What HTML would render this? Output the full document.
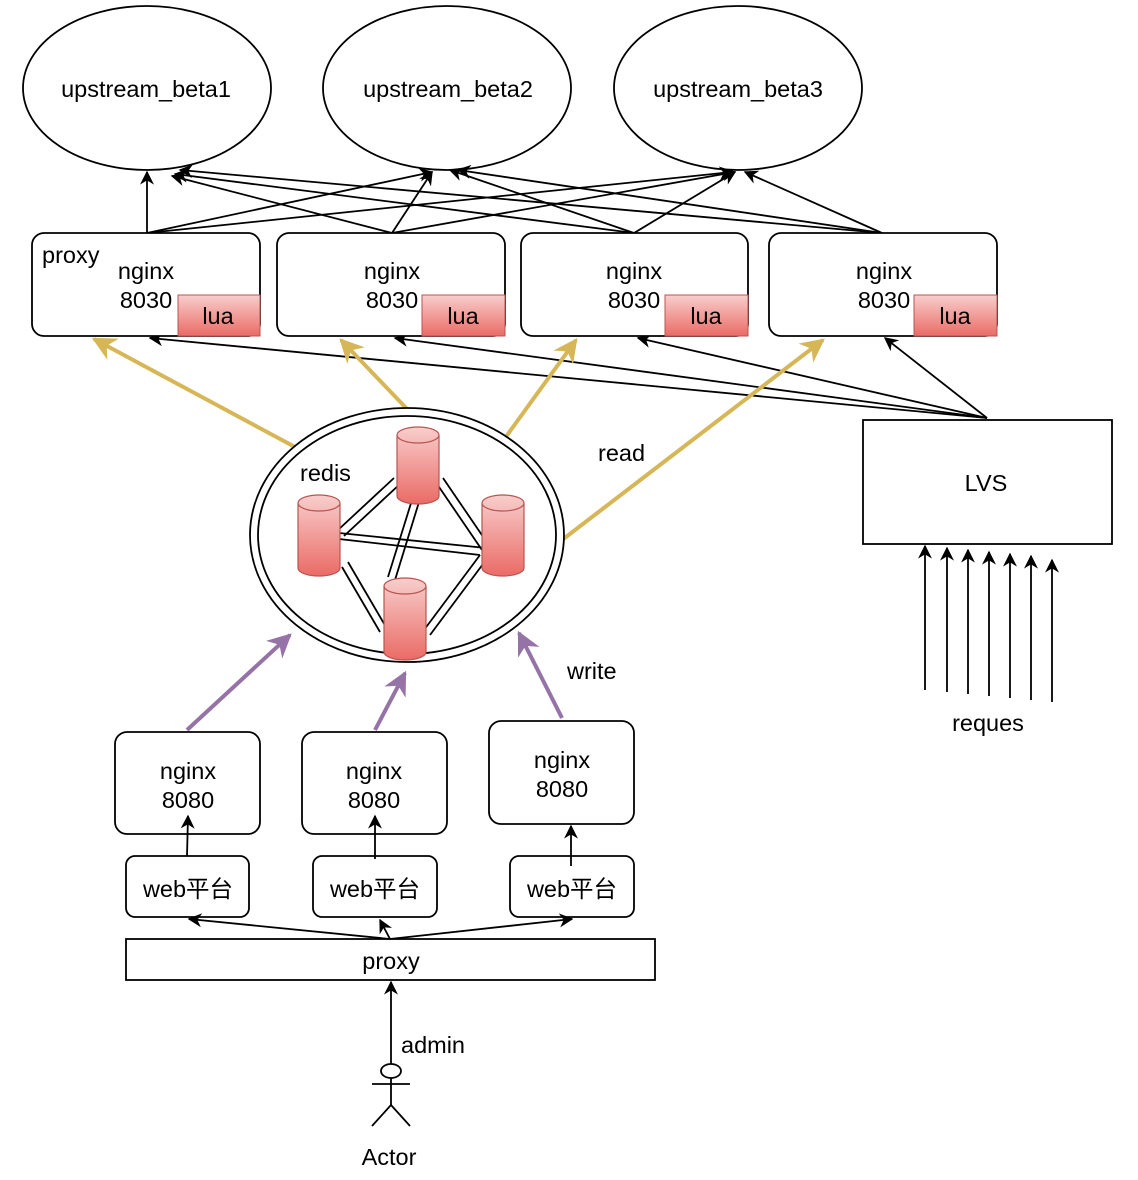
<!DOCTYPE html>
<html><head><meta charset="utf-8"><style>
html,body{margin:0;padding:0;background:#fff;}
svg{display:block;}
text{font-family:"Liberation Sans","Noto Sans CJK SC",sans-serif;font-size:23.5px;fill:#000;}
</style></head><body>
<svg width="1138" height="1180" viewBox="0 0 1138 1180" xmlns="http://www.w3.org/2000/svg">
<defs>
<marker id="a" viewBox="0 0 10 10" refX="9" refY="5" markerWidth="14" markerHeight="14" markerUnits="userSpaceOnUse" orient="auto"><path d="M0,0 L10,5 L0,10 L3,5 Z" fill="#000"/></marker>
<marker id="g" viewBox="0 0 10 10" refX="9" refY="5" markerWidth="6" markerHeight="6" orient="auto"><path d="M0,0 L10,5 L0,10 L3,5 Z" fill="#d6b656"/></marker>
<marker id="p" viewBox="0 0 10 10" refX="9" refY="5" markerWidth="6" markerHeight="6" orient="auto"><path d="M0,0 L10,5 L0,10 L3,5 Z" fill="#9673a6"/></marker>
<linearGradient id="r" x1="0" y1="0" x2="0" y2="1"><stop offset="0" stop-color="#f8cecc"/><stop offset="1" stop-color="#ea6b66"/></linearGradient>
</defs>
<g fill="#fff" stroke="#000" stroke-width="1.8">
<ellipse cx="147" cy="88" rx="124" ry="82"/>
<ellipse cx="447" cy="88" rx="124" ry="82"/>
<ellipse cx="738" cy="88" rx="124" ry="82"/>
</g>
<text x="146" y="97" text-anchor="middle">upstream_beta1</text>
<text x="448" y="97" text-anchor="middle">upstream_beta2</text>
<text x="738" y="97" text-anchor="middle">upstream_beta3</text>
<g stroke="#000" stroke-width="1.8" fill="none" marker-end="url(#a)">
<line x1="147" y1="233" x2="147" y2="172"/>
<line x1="147" y1="233" x2="432" y2="172"/>
<line x1="147" y1="233" x2="732" y2="172"/>
<line x1="392" y1="233" x2="172" y2="176"/>
<line x1="392" y1="233" x2="432" y2="172"/>
<line x1="392" y1="233" x2="735" y2="172"/>
<line x1="634" y1="233" x2="175" y2="174"/>
<line x1="634" y1="233" x2="450" y2="170"/>
<line x1="634" y1="233" x2="735" y2="172"/>
<line x1="882" y1="233" x2="180" y2="170"/>
<line x1="882" y1="233" x2="458" y2="170"/>
<line x1="882" y1="233" x2="745" y2="172"/>
<line x1="987" y1="418" x2="150" y2="338"/>
<line x1="987" y1="418" x2="395" y2="338"/>
<line x1="987" y1="418" x2="638" y2="338"/>
<line x1="987" y1="418" x2="885" y2="338"/>
</g>
<g fill="#fff" stroke="#000" stroke-width="1.8">
<rect x="32" y="233" width="228" height="103" rx="12"/>
<rect x="277" y="233" width="228" height="103" rx="12"/>
<rect x="521" y="233" width="227" height="103" rx="12"/>
<rect x="769" y="233" width="228" height="103" rx="12"/>
</g>
<g fill="url(#r)" stroke="#b85450" stroke-width="1">
<rect x="178" y="295" width="82" height="41"/>
<rect x="422" y="295" width="83" height="41"/>
<rect x="665" y="295" width="83" height="41"/>
<rect x="914" y="295" width="83" height="41"/>
</g>
<text x="42" y="263">proxy</text>
<g text-anchor="middle">
<text x="146" y="279">nginx</text><text x="146" y="308">8030</text><text x="218" y="324">lua</text>
<text x="392" y="279">nginx</text><text x="392" y="308">8030</text><text x="463" y="324">lua</text>
<text x="634" y="279">nginx</text><text x="634" y="308">8030</text><text x="706" y="324">lua</text>
<text x="884" y="279">nginx</text><text x="884" y="308">8030</text><text x="955" y="324">lua</text>
</g>
<g stroke="#d6b656" stroke-width="4" marker-end="url(#g)">
<line x1="295" y1="447" x2="94" y2="339"/>
<line x1="408" y1="410" x2="341" y2="340"/>
<line x1="505" y1="438" x2="576" y2="340"/>
<line x1="562" y1="540" x2="823" y2="340"/>
</g>
<text x="598" y="461">read</text>
<ellipse cx="407" cy="535" rx="157" ry="127" fill="#fff" stroke="#000" stroke-width="1.8"/>
<ellipse cx="407" cy="535" rx="149" ry="119" fill="none" stroke="#000" stroke-width="1.8"/>
<text x="300" y="481">redis</text>
<g stroke="#000" stroke-width="1.8">
<line x1="394" y1="478" x2="338" y2="530"/><line x1="400" y1="484" x2="344" y2="536"/>
<line x1="437" y1="484" x2="482" y2="550"/><line x1="443" y1="478" x2="488" y2="544"/>
<line x1="412" y1="500" x2="388" y2="577"/><line x1="419" y1="502" x2="395" y2="580"/>
<line x1="339" y1="533" x2="486" y2="548"/><line x1="339" y1="539" x2="480" y2="555"/>
<line x1="342" y1="567" x2="380" y2="632"/><line x1="348" y1="562" x2="386" y2="627"/>
<line x1="424" y1="630" x2="480" y2="555"/><line x1="430" y1="635" x2="486" y2="560"/>
</g>
<g fill="url(#r)" stroke="#b85450" stroke-width="1.2">
<path d="M397,435 v61 a21,8 0 0 0 42,0 v-61 a21,8 0 0 0 -42,0 a21,8 0 0 0 42,0"/>
<path d="M298,503 v65 a21,8 0 0 0 42,0 v-65 a21,8 0 0 0 -42,0 a21,8 0 0 0 42,0"/>
<path d="M482,503 v65 a21,8 0 0 0 42,0 v-65 a21,8 0 0 0 -42,0 a21,8 0 0 0 42,0"/>
<path d="M384,586 v66 a21,8 0 0 0 42,0 v-66 a21,8 0 0 0 -42,0 a21,8 0 0 0 42,0"/>
</g>
<rect x="863" y="420" width="249" height="124" fill="#fff" stroke="#000" stroke-width="1.8"/>
<text x="986" y="491" text-anchor="middle">LVS</text>
<g stroke="#000" stroke-width="1.8" marker-end="url(#a)">
<line x1="925" y1="690" x2="925" y2="546"/>
<line x1="947" y1="692" x2="947" y2="548"/>
<line x1="968" y1="694" x2="968" y2="550"/>
<line x1="989" y1="696" x2="989" y2="552"/>
<line x1="1010" y1="698" x2="1010" y2="554"/>
<line x1="1031" y1="700" x2="1031" y2="556"/>
<line x1="1052" y1="702" x2="1052" y2="560"/>
</g>
<text x="988" y="731" text-anchor="middle">reques</text>
<g stroke="#9673a6" stroke-width="4" marker-end="url(#p)">
<line x1="187" y1="730" x2="290" y2="635"/>
<line x1="375" y1="730" x2="405" y2="673"/>
<line x1="562" y1="718" x2="519" y2="633"/>
</g>
<text x="567" y="679">write</text>
<g fill="#fff" stroke="#000" stroke-width="1.8">
<rect x="115" y="732" width="145" height="102" rx="12"/>
<rect x="302" y="732" width="145" height="102" rx="12"/>
<rect x="489" y="721" width="145" height="103" rx="12"/>
<rect x="126" y="856" width="123" height="61" rx="9"/>
<rect x="313" y="856" width="124" height="61" rx="9"/>
<rect x="510" y="856" width="124" height="61" rx="9"/>
<rect x="126" y="939" width="529" height="41"/>
</g>
<g text-anchor="middle">
<text x="188" y="779">nginx</text><text x="188" y="808">8080</text>
<text x="374" y="779">nginx</text><text x="374" y="808">8080</text>
<text x="562" y="768">nginx</text><text x="562" y="797">8080</text>
<text x="188" y="897">web平台</text>
<text x="375" y="897">web平台</text>
<text x="572" y="897">web平台</text>
<text x="391" y="969">proxy</text>
<text x="389" y="1165">Actor</text>
</g>
<text x="401" y="1053">admin</text>
<g stroke="#000" stroke-width="1.8" fill="none" marker-end="url(#a)">
<line x1="187" y1="856" x2="188" y2="816"/>
<line x1="375" y1="859" x2="375" y2="816"/>
<line x1="571" y1="866" x2="571" y2="826"/>
<line x1="390" y1="939" x2="189" y2="919"/>
<line x1="390" y1="939" x2="380" y2="920"/>
<line x1="390" y1="939" x2="572" y2="919"/>
<line x1="391" y1="1064" x2="391" y2="982"/>
</g>
<g stroke="#000" stroke-width="1.8" fill="#fff">
<ellipse cx="391" cy="1071" rx="10" ry="7"/>
<line x1="372" y1="1084" x2="410" y2="1084"/>
<line x1="391" y1="1078" x2="391" y2="1105"/>
<polyline points="372,1126 391,1105 410,1126" fill="none"/>
</g>
</svg>
</body></html>
